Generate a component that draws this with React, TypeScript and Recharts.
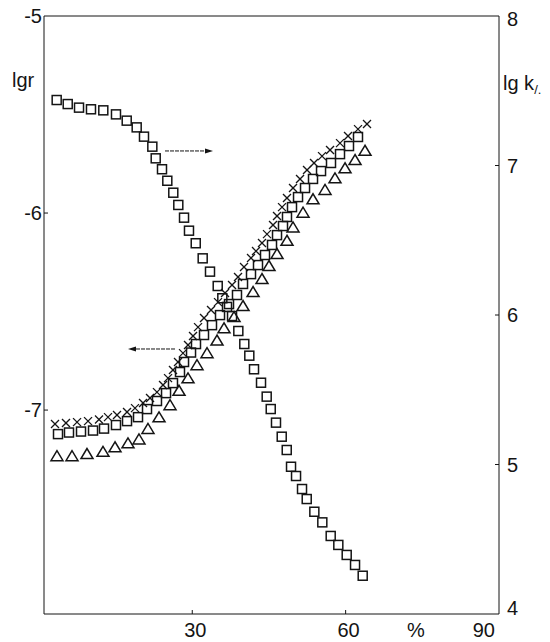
import React from 'react';
import { ScatterChart, Scatter, XAxis, YAxis, ReferenceLine, Label } from 'recharts';

// percent (x axis)
const xTicks = [30, 60, 90];
const lgrTicks = [-7, -6, -5];
const lgkTicks = [4, 5, 6, 7, 8];

// crosses, lgr (left axis)
const crossX = [3.15, 5.3, 7.46, 9.61, 11.76, 13.52, 15.28, 17.24, 18.8, 20.37, 21.74, 23.1, 24.28, 25.26, 26.23, 27.21, 28.19, 29.17, 30.15, 31.13, 32.3, 33.67, 35.04, 36.41, 37.78, 38.95, 40.12, 41.49, 42.47, 43.64, 44.62, 45.8, 46.58, 47.56, 48.53, 49.71, 51.08, 52.45, 53.82, 55.38, 56.95, 58.9, 60.47, 62.42, 64.18];
const crossY = [-7.071, -7.066, -7.061, -7.056, -7.048, -7.036, -7.025, -7.01, -6.99, -6.964, -6.939, -6.909, -6.873, -6.838, -6.797, -6.756, -6.711, -6.67, -6.624, -6.579, -6.533, -6.492, -6.452, -6.406, -6.365, -6.325, -6.274, -6.228, -6.193, -6.152, -6.107, -6.061, -6.015, -5.97, -5.924, -5.873, -5.827, -5.782, -5.746, -5.711, -5.68, -5.645, -5.609, -5.574, -5.548];

// squares rising, lgr (left axis)
const sqUpX = [3.74, 5.89, 8.24, 10.59, 12.74, 15.08, 17.24, 19.39, 21.15, 23.1, 24.87, 26.23, 27.6, 28.39, 29.76, 30.73, 32.3, 33.86, 35.43, 37.19, 38.75, 39.93, 41.49, 42.86, 44.23, 45.6, 46.58, 47.75, 48.53, 49.51, 50.69, 52.06, 53.62, 55.19, 57.14, 58.9, 60.66, 62.42];
const sqUpY = [-7.122, -7.114, -7.109, -7.104, -7.094, -7.076, -7.056, -7.036, -6.995, -6.954, -6.914, -6.863, -6.807, -6.756, -6.708, -6.665, -6.619, -6.569, -6.518, -6.462, -6.416, -6.36, -6.31, -6.264, -6.213, -6.162, -6.112, -6.066, -6.02, -5.97, -5.919, -5.873, -5.827, -5.787, -5.746, -5.701, -5.66, -5.614];

// triangles, lgr (left axis)
const triX = [3.54, 6.48, 9.41, 12.54, 14.89, 17.43, 19.58, 21.34, 23.5, 25.65, 27.41, 29.17, 30.93, 32.89, 34.84, 36.21, 38.17, 39.93, 41.89, 43.64, 45.01, 46.58, 48.53, 49.71, 51.67, 53.62, 55.97, 57.92, 59.88, 61.84, 63.79];
const triY = [-7.234, -7.234, -7.223, -7.212, -7.189, -7.169, -7.149, -7.096, -7.037, -6.975, -6.902, -6.839, -6.772, -6.711, -6.647, -6.585, -6.528, -6.472, -6.401, -6.335, -6.269, -6.208, -6.141, -6.073, -5.998, -5.93, -5.883, -5.824, -5.773, -5.731, -5.684];

// squares falling, lg k (right axis)
const sqDownX = [3.48, 5.64, 7.85, 10.19, 12.6, 15.08, 17.18, 19.13, 20.56, 22.19, 22.85, 24.08, 25.12, 26.29, 27.27, 28.39, 29.36, 30.68, 32.04, 33.47, 34.98, 35.88, 36.8, 37.78, 39.01, 40.18, 41.16, 42.08, 43.45, 44.56, 45.35, 46.38, 47.5, 48.48, 49.32, 50.3, 51.47, 52.39, 53.88, 55.44, 57.08, 58.57, 60.21, 61.84, 63.34];
const sqDownY = [7.438, 7.411, 7.387, 7.376, 7.369, 7.342, 7.3, 7.255, 7.193, 7.126, 7.048, 6.975, 6.898, 6.818, 6.736, 6.651, 6.564, 6.48, 6.379, 6.29, 6.194, 6.112, 6.054, 5.993, 5.893, 5.806, 5.728, 5.637, 5.547, 5.454, 5.371, 5.28, 5.186, 5.097, 4.985, 4.923, 4.836, 4.769, 4.684, 4.613, 4.522, 4.462, 4.395, 4.328, 4.256];

// arrows (data coords, left axis)
const arrowRight = { x1: 24.67, x2: 34.06, y: -5.685 };
const arrowLeft = { x1: 26.63, x2: 17.43, y: -6.69 };

const zip = (xs: number[], ys: number[]) => xs.map((x, i) => ({ x, y: ys[i] }));
const crossData = zip(crossX, crossY);
const sqUpData = zip(sqUpX, sqUpY);
const triData = zip(triX, triY);
const sqDownData = zip(sqDownX, sqDownY);

const INK = '#141414';
const FONT = '"Liberation Sans", Arial, sans-serif';

const SquareShape = (p: any) => (
  <rect x={p.cx - 4.5} y={p.cy - 4.5} width={9} height={9} fill="none" stroke={INK} strokeWidth={1.5} />
);
const CrossShape = (p: any) => (
  <g stroke={INK} strokeWidth={1.3}>
    <line x1={p.cx - 4} y1={p.cy - 4} x2={p.cx + 4} y2={p.cy + 4} />
    <line x1={p.cx - 4} y1={p.cy + 4} x2={p.cx + 4} y2={p.cy - 4} />
  </g>
);
const TriShape = (p: any) => (
  <polygon
    points={`${p.cx},${p.cy - 5.5} ${p.cx - 6},${p.cy + 4.5} ${p.cx + 6},${p.cy + 4.5}`}
    fill="none"
    stroke={INK}
    strokeWidth={1.5}
    strokeLinejoin="miter"
  />
);

const ArrowShape = (p: any) => {
  const { x1, y1, x2, y2 } = p;
  const dir = x2 > x1 ? 1 : -1;
  return (
    <g>
      <line x1={x1} y1={y1} x2={x2 - dir * 6} y2={y2} stroke={INK} strokeWidth={1} strokeDasharray="4 1" />
      <polygon points={`${x2},${y2} ${x2 - dir * 8},${y2 - 2.5} ${x2 - dir * 8},${y2 + 2.5}`} fill={INK} />
    </g>
  );
};

const XTick = (p: any) => {
  const { x, y, payload } = p;
  const last = payload.value === 90;
  return (
    <g>
      {!last && <line x1={x} y1={y - 8} x2={x} y2={y - 12} stroke={INK} strokeWidth={1} />}
      <text x={last ? x - 4 : x + 3} y={y} dy="0.75em" textAnchor={last ? 'end' : 'middle'} fill={INK} fontSize={20} fontFamily={FONT}>
        {payload.value}
      </text>
    </g>
  );
};

const LeftTick = (p: any) => {
  const { x, y, payload } = p;
  const edge = payload.value === -5;
  return (
    <g>
      {!edge && <line x1={x + 2} y1={y} x2={x + 6} y2={y} stroke={INK} strokeWidth={1} />}
      <text x={x} y={y} dy="0.36em" textAnchor="end" fill={INK} fontSize={20} fontFamily={FONT}>
        {String(payload.value)}
      </text>
    </g>
  );
};

const RightTick = (p: any) => {
  const { x, y, payload } = p;
  let dy = 0;
  if (payload.value === 8) dy = 3;
  if (payload.value === 4) dy = -6;
  const edge = payload.value === 8 || payload.value === 4;
  return (
    <g>
      {!edge && <line x1={x - 8} y1={y} x2={x - 12} y2={y} stroke={INK} strokeWidth={1} />}
      <text x={x} y={y + dy} dy="0.36em" textAnchor="start" fill={INK} fontSize={20} fontFamily={FONT}>
        {payload.value}
      </text>
    </g>
  );
};

export default function App() {
  return (
    <div style={{ position: 'absolute', left: 0, top: 0, width: 550, height: 642, background: '#fff' }}>
      <ScatterChart width={550} height={642} margin={{ top: 16, right: 0, bottom: 0, left: 0 }}>
        <XAxis
          type="number"
          dataKey="x"
          domain={[1, 90]}
          ticks={xTicks}
          allowDataOverflow
          height={28}
          stroke={INK}
          tickLine={false}
          tickSize={2}
          tickMargin={6}
          tick={<XTick />}
        >
          <Label
            content={(props: any) => {
              const vb = props.viewBox;
              return (
                <text x={vb.x + vb.width * 0.8176} y={vb.y + 8} dy="0.75em" textAnchor="middle" fill={INK} fontSize={20} fontFamily={FONT}>
                  %
                </text>
              );
            }}
          />
        </XAxis>
        <YAxis
          yAxisId="left"
          type="number"
          dataKey="y"
          domain={[-8.035, -5]}
          ticks={lgrTicks}
          allowDataOverflow
          width={44}
          stroke={INK}
          tickLine={false}
          tickSize={2}
          tickMargin={0}
          tick={<LeftTick />}
        >
          <Label
            content={(props: any) => {
              const vb = props.viewBox;
              return (
                <text x={vb.x + 12} y={87} fill={INK} fontSize={20} fontFamily={FONT}>
                  lgr
                </text>
              );
            }}
          />
        </YAxis>
        <YAxis
          yAxisId="right"
          orientation="right"
          type="number"
          dataKey="y"
          domain={[4, 8]}
          ticks={lgkTicks}
          allowDataOverflow
          width={51}
          stroke={INK}
          tickLine={false}
          tickSize={2}
          tickMargin={6}
          tick={<RightTick />}
        >
          <Label
            content={(props: any) => {
              const vb = props.viewBox;
              return (
                <text x={vb.x + 4} y={90} fill={INK} fontSize={20} fontFamily={FONT}>
                  lg k
                  <tspan fontSize={13} dy={4}>/.</tspan>
                </text>
              );
            }}
          />
        </YAxis>
        <ReferenceLine yAxisId="left" y={-5} stroke={INK} strokeWidth={1} />
        <ReferenceLine
          yAxisId="left"
          segment={[{ x: arrowRight.x1, y: arrowRight.y }, { x: arrowRight.x2, y: arrowRight.y }]}
          shape={<ArrowShape />}
        />
        <ReferenceLine
          yAxisId="left"
          segment={[{ x: arrowLeft.x1, y: arrowLeft.y }, { x: arrowLeft.x2, y: arrowLeft.y }]}
          shape={<ArrowShape />}
        />
        <Scatter yAxisId="right" data={sqDownData} shape={<SquareShape />} isAnimationActive={false} />
        <Scatter yAxisId="left" data={triData} shape={<TriShape />} isAnimationActive={false} />
        <Scatter yAxisId="left" data={sqUpData} shape={<SquareShape />} isAnimationActive={false} />
        <Scatter yAxisId="left" data={crossData} shape={<CrossShape />} isAnimationActive={false} />
      </ScatterChart>
    </div>
  );
}
